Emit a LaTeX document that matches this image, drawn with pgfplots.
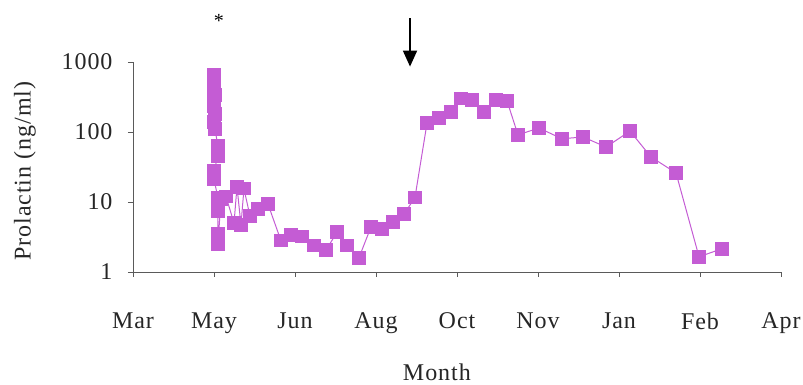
\documentclass[border=0pt]{standalone}
\usepackage{pgfplots}
\pgfplotsset{compat=1.18}
\usetikzlibrary{arrows.meta}
\usepackage{fontspec}
\setmainfont{Liberation Serif}[LetterSpace=4]
\definecolor{prl}{RGB}{196,92,212}
\definecolor{axg}{RGB}{90,90,90}
\begin{document}
\begin{tikzpicture}
\path[use as bounding box] (-133pt,-113pt) rectangle (670pt,272pt);
\begin{axis}[
  scale only axis,
  width=648pt, height=210pt,
  at={(0pt,0pt)}, anchor=south west,
  xmin=0, xmax=8,
  ymode=log, ymin=1, ymax=1000,
  axis x line*=bottom, axis y line*=left,
  axis line style={-, axg, line width=0.6pt},
  tick style={axg, line width=0.6pt},
  tick align=outside,
  major tick length=5pt,
  xtick={0,1,2,3,4,5,6,7,8},
  xticklabels={Mar,May,Jun,Aug,Oct,Nov,Jan,Feb,Apr},
  ytick={1,10,100,1000},
  yticklabels={1,10,100,1000},
  yminorticks=false,
  /pgf/number format/assume math mode=true,
  tick label style={font=\fontsize{24}{27}\selectfont, text=black!85},
  xticklabel style={yshift=-32pt},
  yticklabel style={xshift=-12pt},
  xlabel={Month},
  ylabel={Prolactin (ng/ml)},
  label style={font=\fontsize{24}{27}\selectfont, text=black!85},
  xlabel style={at={(axis description cs:0.469,0)}, anchor=center, yshift=-100pt},
  ylabel style={at={(axis description cs:0,0.48)}, anchor=center, yshift=108pt},
  clip=false,
]
\addplot[prl, line width=1pt, mark=square*, mark size=6.3pt, mark options={fill=prl, draw=prl}] table {
x y
1.000 650
1.000 560
1.000 470
1.000 400
1.012 340
1.000 280
1.000 230
1.012 180
1.000 140
1.012 110
1.049 63
1.049 45
1.000 28
1.000 21
1.049 11.5
1.049 7.5
1.049 3.5
1.049 2.5
1.086 11
1.148 12
1.247 5.0
1.284 16.5
1.333 4.7
1.370 15.5
1.444 6.3
1.543 7.9
1.667 9.3
1.827 2.8
1.951 3.4
2.086 3.2
2.235 2.4
2.383 2.06
2.519 3.7
2.642 2.4
2.790 1.6
2.938 4.4
3.074 4.1
3.210 5.2
3.346 6.7
3.481 11.6
3.630 134
3.778 158
3.926 193
4.049 300
4.185 284
4.333 193
4.481 284
4.617 280
4.753 91
5.012 114
5.296 80
5.556 85
5.840 61
6.136 103
6.395 44
6.704 26
6.988 1.65
7.272 2.15
};
\draw[black, line width=1.8pt, -{Triangle[width=14pt,length=16pt]}] (axis cs:3.42,4250) -- (axis cs:3.42,860);
\node[font=\fontsize{20}{22}\selectfont] at (axis cs:1.06,3900) {*};
\end{axis}
\end{tikzpicture}
\end{document}
